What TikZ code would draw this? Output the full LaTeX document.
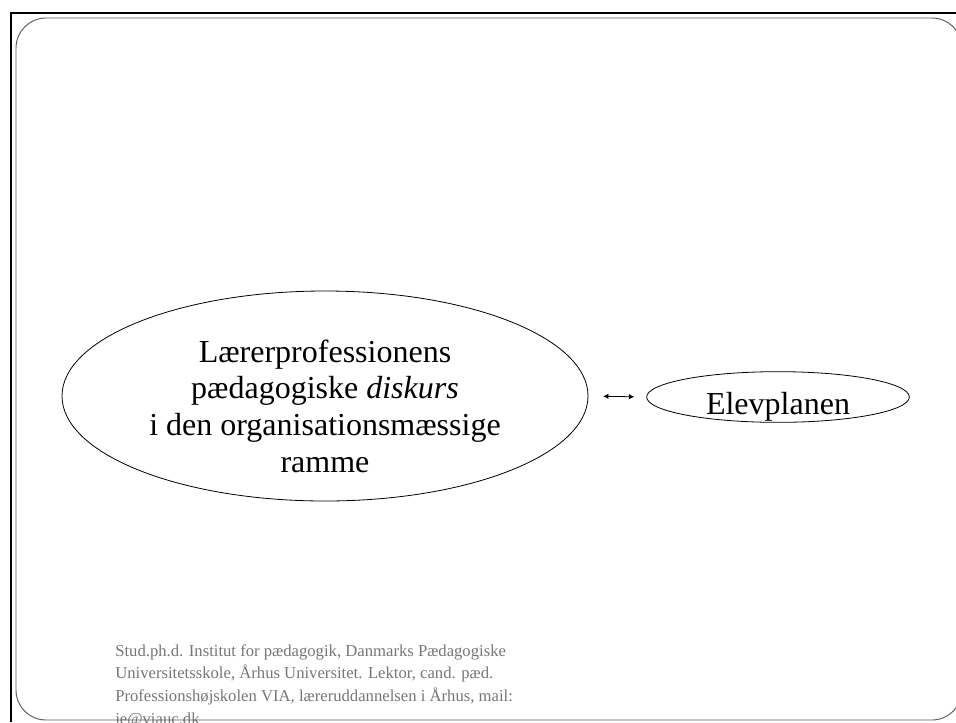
\documentclass[tikz,border=0pt]{standalone}
\usepackage{fontspec}
\setmainfont{Liberation Serif}
\usepackage{xcolor}
\definecolor{footgray}{RGB}{118,118,118}
\definecolor{edgegray}{RGB}{90,90,90}
\usetikzlibrary{shapes.geometric}
\usetikzlibrary{arrows.meta}

\begin{document}
\begin{tikzpicture}[x=0.75pt,y=-0.75pt,
                ell/.style={draw,ellipse,inner sep=0pt,line width=0.6pt},
                bigtext/.style={align=center,inner sep=0pt,font=\fontsize{24}{27.5}\selectfont},
                note/.style={align=left,anchor=base west,inner sep=0pt,text=footgray,
                             font=\fontsize{12.5}{17}\selectfont},
                >={Latex[length=4pt,width=4pt]}]
             \useasboundingbox (0,0) rectangle (956,722);
             \draw[line width=1.5pt] (11,722) -- (11,12.5) -- (956,12.5);
             \node[note] (footer) at (115,724) {Stud.ph.d. Institut for pædagogik, Danmarks Pædagogiske\\
                 Universitetsskole, Århus Universitet. Lektor, cand. pæd.\\
                 Professionshøjskolen VIA, læreruddannelsen i Århus, mail:\\
                 je@viauc.dk};
             \draw[edgegray,line width=0.7pt,rounded corners=22.5pt] (16,720) rectangle (962,18);
             \node[ell,minimum width=394.5pt,minimum height=157.5pt] (diskurs) at (325,396) {};
             \node[bigtext] (diskurstext) at ([yshift=-7.5pt]diskurs.center)
                 {Lærerprofessionens\\pædagogiske \textit{diskurs}\\i den organisationsmæssige\\ramme};
             \node[ell,minimum width=197pt,minimum height=38pt] (elevplan) at (778,397) {};
             \node[bigtext] (elevtext) at ([yshift=-7pt]elevplan.center) {Elevplanen};
             \draw[<->,line width=0.6pt,shorten <=11pt,shorten >=9pt] (diskurs.east) -- (elevplan.west);
\end{tikzpicture}
\end{document}
